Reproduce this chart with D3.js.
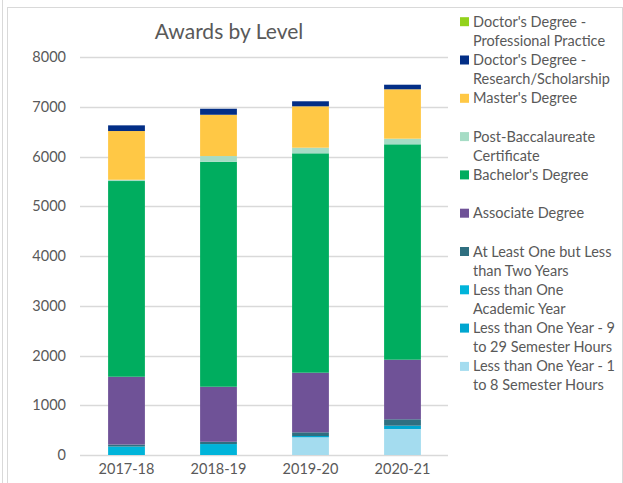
<!DOCTYPE html>
<html>
<head>
<meta charset="utf-8">
<script src="https://cdn.jsdelivr.net/npm/d3@7"></script>
<style>
  body { margin: 0; background: #fff; }
  text { font-family: Lato, "Open Sans", sans-serif; fill: #595959; }
</style>
</head>
<body>
<div id="chart"></div>
<script>
// data (stack order bottom -> top)
var years = ["2017-18", "2018-19", "2019-20", "2020-21"];

var levels = [
  "Less than One Year - 1 to 8 Semester Hours",
  "Less than One Year - 9 to 29 Semester Hours",
  "Less than One Academic Year",
  "At Least One but Less than Two Years",
  "Associate Degree",
  "Bachelor's Degree",
  "Post-Baccalaureate Certificate",
  "Master's Degree",
  "Doctor's Degree - Research/Scholarship",
  "Doctor's Degree - Professional Practice"
];

var lessThanOneYear1to8   = [0, 0, 356, 523];
var lessThanOneYear9to29  = [0, 0, 26, 66];
var lessThanOneAcademic   = [170, 220, 0, 0];
var atLeastOneLessThanTwo = [40, 46, 74, 129];
var associate             = [1363, 1106, 1198, 1198];
var bachelors             = [3934, 4522, 4410, 4329];
var postBacc              = [26, 115, 113, 113];
var masters               = [979, 830, 832, 993];
var doctorsResearch       = [114, 121, 101, 92];
var doctorsProfessional   = [0, 0, 0, 0];

var yTicks = [0, 1000, 2000, 3000, 4000, 5000, 6000, 7000, 8000];

// legend reads top -> bottom, with the line breaks Excel used
var legendLines = [
  ["Doctor's Degree -", "Professional Practice"],
  ["Doctor's Degree -", "Research/Scholarship"],
  ["Master's Degree"],
  ["Post-Baccalaureate", "Certificate"],
  ["Bachelor's Degree"],
  ["Associate Degree"],
  ["At Least One but Less", "than Two Years"],
  ["Less than One", "Academic Year"],
  ["Less than One Year - 9", "to 29 Semester Hours"],
  ["Less than One Year - 1", "to 8 Semester Hours"]
];

var colors = {
  "Less than One Year - 1 to 8 Semester Hours": "#a4dcef",
  "Less than One Year - 9 to 29 Semester Hours": "#00a6d0",
  "Less than One Academic Year": "#00b4da",
  "At Least One but Less than Two Years": "#2f6f80",
  "Associate Degree": "#6f5297",
  "Bachelor's Degree": "#00ad5f",
  "Post-Baccalaureate Certificate": "#a6dcc5",
  "Master's Degree": "#ffc845",
  "Doctor's Degree - Research/Scholarship": "#032e86",
  "Doctor's Degree - Professional Practice": "#92d21b"
};

var series = [lessThanOneYear1to8, lessThanOneYear9to29, lessThanOneAcademic,
  atLeastOneLessThanTwo, associate, bachelors, postBacc, masters,
  doctorsResearch, doctorsProfessional];

var rows = years.map(function(y, i) {
  var r = {year: y};
  levels.forEach(function(l, j) { r[l] = series[j][i]; });
  return r;
});

var width = 623, height = 483;

var svg = d3.select("#chart").append("svg")
  .attr("width", width)
  .attr("height", height);

// frame
svg.append("line")
  .attr("x1", 2.5).attr("x2", 2.5)
  .attr("y1", 0).attr("y2", height)
  .attr("stroke", "#d9d9d9");
svg.append("rect")
  .attr("x", 7.5).attr("y", 7.5)
  .attr("width", 615).attr("height", 490)
  .attr("fill", "none")
  .attr("stroke", "#d9d9d9");

var x = d3.scaleBand()
  .domain(years)
  .range([80.5, 448.5])
  .paddingInner(0.6)
  .paddingOuter(0.3);

var y = d3.scaleLinear()
  .domain([0, 8000])
  .range([455, 57]);

// gridlines
svg.append("g")
  .selectAll("line")
  .data(yTicks)
  .join("line")
  .attr("x1", 80).attr("x2", 448)
  .attr("y1", function(d) { return Math.round(y(d)) + 0.5; })
  .attr("y2", function(d) { return Math.round(y(d)) + 0.5; })
  .attr("stroke", "#d9d9d9")
  .attr("stroke-width", 1.3);

var yAxis = svg.append("g")
  .attr("transform", "translate(66,0)")
  .call(d3.axisLeft(y).tickValues(yTicks).tickFormat(d3.format("d")).tickSize(0).tickPadding(0));
yAxis.select(".domain").remove();
yAxis.selectAll("text")
  .style("font-size", "14.5px")
  .attr("fill", "#595959");

var stack = d3.stack().keys(levels);
var layers = stack(rows);

svg.append("g")
  .selectAll("g")
  .data(layers)
  .join("g")
  .attr("fill", function(d) { return colors[d.key]; })
  .selectAll("rect")
  .data(function(d) { return d; })
  .join("rect")
  .attr("x", function(d) { return x(d.data.year); })
  .attr("width", x.bandwidth())
  .attr("y", function(d) { return y(d[1]); })
  .attr("height", function(d) { return y(d[0]) - y(d[1]); });

var xAxis = svg.append("g")
  .attr("transform", "translate(0,455)")
  .call(d3.axisBottom(x).tickSize(0).tickPadding(9));
xAxis.select(".domain").remove();
xAxis.selectAll("text")
  .style("font-size", "14.5px")
  .attr("fill", "#595959");

svg.append("text")
  .attr("x", 229)
  .attr("y", 39)
  .attr("text-anchor", "middle")
  .style("font-size", "21px")
  .text("Awards by Level");

// legend
var legendKeys = levels.slice().reverse();
var legend = svg.append("g");
var item = legend.selectAll("g")
  .data(legendKeys)
  .join("g")
  .attr("transform", function(d, i) { return "translate(460," + (21.7 + i * 38.3) + ")"; });

item.append("rect")
  .attr("x", 0).attr("y", -4.5)
  .attr("width", 9).attr("height", 9)
  .attr("fill", function(d) { return colors[d]; });

item.append("text")
  .attr("x", 13)
  .attr("y", 5)
  .style("font-size", "14.5px")
  .selectAll("tspan")
  .data(function(d, i) { return legendLines[i]; })
  .join("tspan")
  .attr("x", 13)
  .attr("dy", function(d, i) { return i ? 19 : 0; })
  .text(function(d) { return d; });
</script>
</body>
</html>
